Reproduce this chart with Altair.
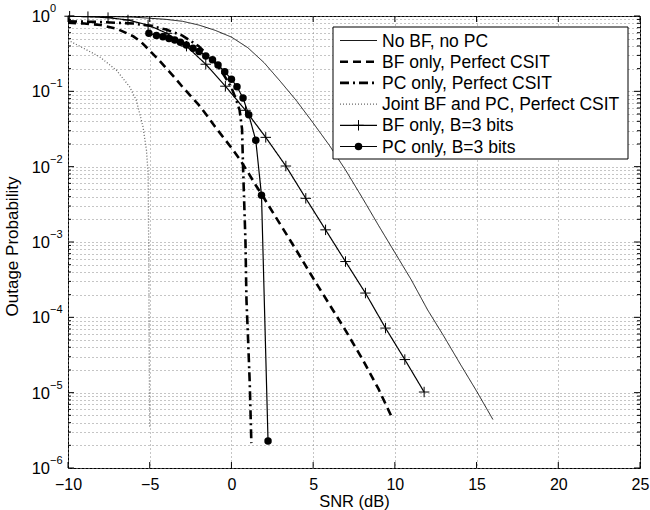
import altair as alt
import pandas as pd

W, H = 572, 452
FONT = "Liberation Sans"

# ---------------- data ----------------
snr_nobf = [-10, -8, -6, -4, -3, -2, -1, 0, 1, 2, 3, 4, 5, 6, 7, 8, 9, 10, 11, 12, 13, 14, 15, 16]
out_nobf = [0.998, 0.991, 0.966, 0.902, 0.851, 0.759, 0.646, 0.525, 0.380, 0.240, 0.135, 0.0741,
            0.038, 0.0191, 0.0089, 0.00389, 0.00166, 0.000724, 0.000316, 0.000126, 5.6e-5, 2.4e-5,
            1.05e-5, 4.4e-6]

snr_bf_perf = [-10, -9, -8, -7, -6, -5.5, -5, -4.5, -4, -3.5, -3, -2.5, -2, -1.5, -1, -0.5, 0, 0.5,
               1, 1.5, 2, 3, 4, 5, 6, 7, 8, 9, 9.8]
out_bf_perf = [0.813, 0.794, 0.759, 0.676, 0.537, 0.447, 0.347, 0.269, 0.204, 0.155, 0.115, 0.0871,
               0.0661, 0.0479, 0.0339, 0.0245, 0.0178, 0.0126, 0.00851, 0.00562, 0.0038, 0.0017,
               0.000759, 0.000331, 0.000148, 6.6e-5, 2.82e-5, 1.12e-5, 4.8e-6]

snr_pc_perf = [-10, -8, -6, -5, -4, -3, -2, -1, -0.5, 0, 0.27, 0.5, 0.65, 0.71, 0.86, 0.92, 1.02, 1.12, 1.22]
out_pc_perf = [0.851, 0.832, 0.794, 0.741, 0.661, 0.55, 0.398, 0.24, 0.17, 0.112, 0.0794, 0.0562,
               0.0316, 0.01, 0.001, 0.00017, 5.0e-5, 1.35e-5, 2.14e-6]

snr_joint = [-10, -8.07, -7.04, -6.23, -5.82, -5.41, -5.2, -5.1, -5.06, -5.03, -5.0]
out_joint = [0.479, 0.288, 0.191, 0.115, 0.0759, 0.0339, 0.0166, 0.0083, 0.00079, 3.6e-5, 3.4e-6]

snr_bf_b3 = [-9.9, -8.78, -7.55, -6.33, -5.1, -3.95, -2.75, -1.57, -0.37, 0.86, 2.1, 3.33, 4.55,
             5.76, 6.98, 8.2, 9.43, 10.61, 11.79]
out_bf_b3 = [0.993, 0.979, 0.951, 0.885, 0.759, 0.589, 0.398, 0.229, 0.117, 0.056, 0.0245, 0.0102,
             0.0038, 0.00145, 0.00055, 0.00021, 7.2e-5, 2.75e-5, 1.02e-5]

snr_pc_b3 = [-5.05, -4.59, -4.19, -3.82, -3.47, -3.12, -2.76, -2.35, -1.98, -1.57, -1.16, -0.82,
             -0.41, 0.0, 0.34, 0.71, 1.06, 1.49, 1.84, 2.24]
out_pc_b3 = [0.589, 0.550, 0.531, 0.501, 0.479, 0.447, 0.412, 0.372, 0.339, 0.295, 0.263, 0.224,
             0.182, 0.145, 0.115, 0.0813, 0.049, 0.0224, 0.00417, 2.29e-6]

series_names = ["No BF, no PC", "BF only, Perfect CSIT", "PC only, Perfect CSIT",
                "Joint BF and PC, Perfect CSIT", "BF only, B=3 bits", "PC only, B=3 bits"]

x_tick_values = [-10, -5, 0, 5, 10, 15, 20, 25]
y_exponents = [0, -1, -2, -3, -4, -5, -6]

# ---------------- scales / axes ----------------
xscale = alt.Scale(domain=[-10, 25], nice=False, zero=False)
yscale = alt.Scale(type="log", domain=[1e-6, 1], nice=False)

decades = [10.0 ** e for e in y_exponents]
minors = [m * 10.0 ** k for k in range(-6, 0) for m in range(2, 10)]

xaxis = alt.Axis(values=x_tick_values, grid=True, gridDash=[1, 3], gridColor="#8a8a8a", gridWidth=1,
                 ticks=False, tickSize=0, domain=False, labelFont=FONT, labelFontSize=16,
                 labelColor="black", labelPadding=8, labelFlush=False,
                 title="SNR (dB)", titleFont=FONT, titleFontSize=16.5, titleFontWeight="normal",
                 titleColor="black", titleX=W / 2, titleY=33, titleAlign="center",
                 titleBaseline="middle")
yaxis = alt.Axis(values=decades + minors, grid=True, gridDash=[1, 3], gridColor="#8a8a8a", gridWidth=1,
                 ticks=False, tickSize=0, domain=False, labels=False,
                 title="Outage Probability", titleFont=FONT, titleFontSize=17, titleFontWeight="normal",
                 titleColor="black", titleX=-56, titleY=H / 2 + 4, titleAngle=270, titleAlign="center",
                 titleBaseline="middle")


def X(field):
    return alt.X(field, type="quantitative", scale=xscale, axis=xaxis)


def Y(field):
    return alt.Y(field, type="quantitative", scale=yscale, axis=yaxis)


styles = [
    dict(color="black", strokeWidth=0.9, strokeDash=[1, 0]),
    dict(color="black", strokeWidth=2.6, strokeDash=[8, 5]),
    dict(color="black", strokeWidth=2.6, strokeDash=[9, 4, 2, 4]),
    dict(color="#6a6a6a", strokeWidth=1.3, strokeDash=[1, 2]),
    dict(color="black", strokeWidth=1.2, strokeDash=[1, 0]),
    dict(color="black", strokeWidth=1.2, strokeDash=[1, 0]),
]

data_sets = [(snr_nobf, out_nobf), (snr_bf_perf, out_bf_perf), (snr_pc_perf, out_pc_perf),
             (snr_joint, out_joint), (snr_bf_b3, out_bf_b3), (snr_pc_b3, out_pc_b3)]

PLUS = "M-1,0L1,0M0,-1L0,1"

layers = []
for (sx, sy), st in zip(data_sets, styles):
    df = pd.DataFrame({"snr": sx, "p": sy})
    layers.append(alt.Chart(df).mark_line(clip=True, **st).encode(x=X("snr"), y=Y("p")))

df_bf_b3 = pd.DataFrame({"snr": snr_bf_b3, "p": out_bf_b3})
df_pc_b3 = pd.DataFrame({"snr": snr_pc_b3, "p": out_pc_b3})
layers.append(alt.Chart(df_bf_b3).mark_point(shape=PLUS, filled=False, stroke="black", strokeWidth=1,
                                             size=110, opacity=1).encode(x=X("snr"), y=Y("p")))
layers.append(alt.Chart(df_pc_b3).mark_point(shape="circle", filled=True, color="black", size=56,
                                             opacity=1).encode(x=X("snr"), y=Y("p")))

# ---------------- inward ticks (MATLAB style) ----------------
dfx = pd.DataFrame({"v": x_tick_values})
dfyM = pd.DataFrame({"v": decades})
dfym = pd.DataFrame({"v": minors})
tick_style = dict(color="black", strokeWidth=1)
layers += [
    alt.Chart(dfx).mark_rule(**tick_style).encode(x=X("v"), y=alt.value(H), y2=alt.value(H - 6)),
    alt.Chart(dfx).mark_rule(**tick_style).encode(x=X("v"), y=alt.value(0), y2=alt.value(6)),
    alt.Chart(dfyM).mark_rule(**tick_style).encode(y=Y("v"), x=alt.value(0), x2=alt.value(6)),
    alt.Chart(dfyM).mark_rule(**tick_style).encode(y=Y("v"), x=alt.value(W), x2=alt.value(W - 6)),
    alt.Chart(dfym).mark_rule(**tick_style).encode(y=Y("v"), x=alt.value(0), x2=alt.value(3)),
    alt.Chart(dfym).mark_rule(**tick_style).encode(y=Y("v"), x=alt.value(W), x2=alt.value(W - 3)),
]

# ---------------- y tick labels 10^k ----------------
dflab = pd.DataFrame({"v": decades,
                      "base": ["10"] * len(decades),
                      "exp": [str(e).replace("-", "\u2212") for e in y_exponents]})
layers.append(alt.Chart(dflab).mark_text(align="right", baseline="middle", font=FONT, fontSize=16.5,
                                         color="black", dy=1)
              .encode(y=Y("v"), x=alt.value(-18), text="base:N"))
layers.append(alt.Chart(dflab).mark_text(align="left", baseline="middle", font=FONT, fontSize=11,
                                         color="black", dy=-7)
              .encode(y=Y("v"), x=alt.value(-18), text="exp:N"))

# ---------------- legend ----------------
LX0, LX1, LY0, LY1 = 265, 560, 11, 143
layers.append(alt.Chart(pd.DataFrame({"a": [0]})).mark_rect(fill="white", stroke="black", strokeWidth=1)
              .encode(x=alt.value(LX0), x2=alt.value(LX1), y=alt.value(LY0), y2=alt.value(LY1)))
for i, (name, st) in enumerate(zip(series_names, styles)):
    yy = 24.5 + 21.2 * i
    d1 = pd.DataFrame({"name": [name]})
    layers.append(alt.Chart(d1).mark_rule(**st).encode(x=alt.value(272), x2=alt.value(309),
                                                       y=alt.value(yy)))
    layers.append(alt.Chart(d1).mark_text(align="left", baseline="middle", font=FONT, fontSize=17.5,
                                          color="black")
                  .encode(x=alt.value(314), y=alt.value(yy + 1), text="name:N"))
    if i == 4:
        layers.append(alt.Chart(d1).mark_point(shape=PLUS, filled=False, stroke="black", strokeWidth=1,
                                               size=110, opacity=1)
                      .encode(x=alt.value(290.5), y=alt.value(yy)))
    if i == 5:
        layers.append(alt.Chart(d1).mark_point(shape="circle", filled=True, color="black", size=56,
                                               opacity=1)
                      .encode(x=alt.value(290.5), y=alt.value(yy)))

chart = (alt.layer(*layers)
         .properties(width=W, height=H,
                     padding={"left": 68, "top": 16, "right": 10, "bottom": 42},
                     autosize=alt.AutoSizeParams(type="none"), background="white")
         .configure_view(stroke="black", strokeWidth=1))

chart.save("out.html", embed_options={"renderer": "svg", "actions": False})
